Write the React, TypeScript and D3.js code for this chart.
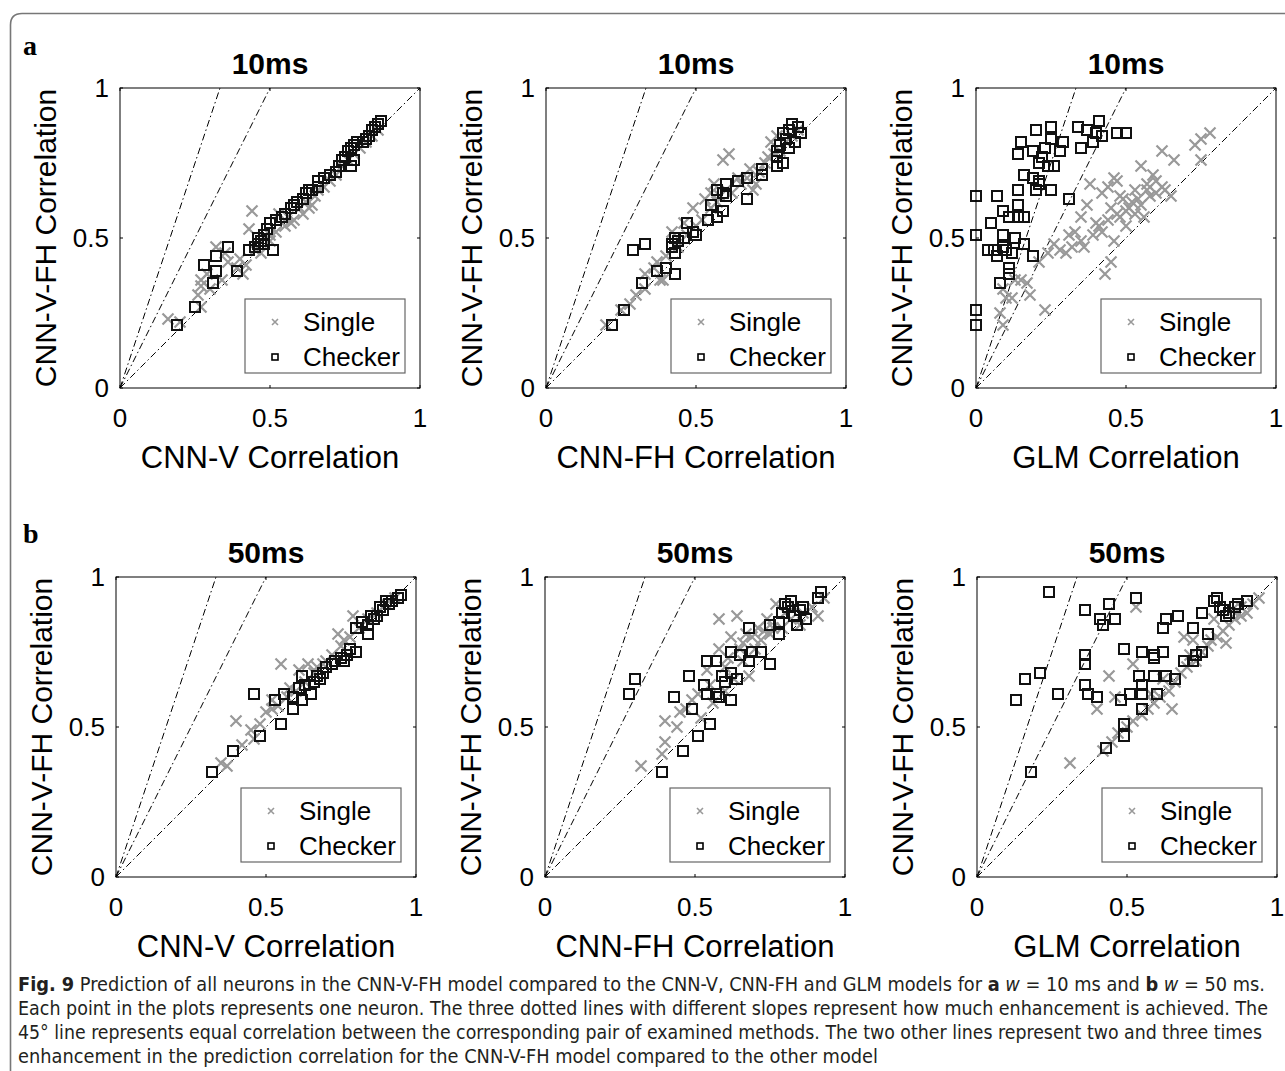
import React from 'react';
import * as d3 from 'd3';

// axis ticks shared by all six panels
const tickValues = [0, 0.5, 1];
const tickLabels = ['0', '0.5', '1'];
const refSlopes = [1, 2, 3];

// panel a: 10ms
const single10V: [number, number][] = [
  [0.16, 0.23], [0.2, 0.22], [0.27, 0.27], [0.26, 0.31], [0.27, 0.34], [0.27, 0.36], [0.29, 0.38], [0.3, 0.33],
  [0.32, 0.47], [0.35, 0.45], [0.36, 0.42], [0.4, 0.43], [0.41, 0.38], [0.42, 0.41], [0.43, 0.53], [0.44, 0.59],
  [0.45, 0.46], [0.47, 0.45], [0.5, 0.49], [0.52, 0.52], [0.55, 0.54], [0.57, 0.55], [0.58, 0.56], [0.6, 0.6],
  [0.61, 0.58], [0.62, 0.62], [0.63, 0.6], [0.64, 0.61], [0.65, 0.64], [0.66, 0.66], [0.68, 0.67], [0.7, 0.69],
  [0.72, 0.71], [0.74, 0.74], [0.76, 0.76], [0.78, 0.78], [0.8, 0.8], [0.82, 0.82], [0.84, 0.84], [0.86, 0.86],
  [0.53, 0.58], [0.56, 0.57], [0.5, 0.51], [0.48, 0.5], [0.39, 0.4], [0.34, 0.36],
];
const checker10V: [number, number][] = [
  [0.87, 0.89], [0.86, 0.88], [0.85, 0.87], [0.84, 0.86], [0.83, 0.84], [0.82, 0.83], [0.81, 0.82], [0.79, 0.82],
  [0.78, 0.81], [0.77, 0.8], [0.76, 0.79], [0.75, 0.77], [0.74, 0.76], [0.73, 0.74], [0.78, 0.76], [0.77, 0.74],
  [0.72, 0.72], [0.7, 0.71], [0.68, 0.7], [0.66, 0.69], [0.66, 0.67], [0.64, 0.66], [0.63, 0.66], [0.62, 0.65],
  [0.61, 0.63], [0.59, 0.62], [0.58, 0.61], [0.57, 0.6], [0.55, 0.58], [0.54, 0.57], [0.52, 0.56], [0.5, 0.55],
  [0.49, 0.53], [0.48, 0.51], [0.47, 0.49], [0.46, 0.48], [0.45, 0.47], [0.43, 0.46], [0.51, 0.46], [0.48, 0.48],
  [0.46, 0.5], [0.36, 0.47], [0.32, 0.44], [0.28, 0.41], [0.32, 0.39], [0.31, 0.35], [0.39, 0.39], [0.25, 0.27],
  [0.19, 0.21],
];
const single10FH: [number, number][] = [
  [0.2, 0.21], [0.25, 0.26], [0.28, 0.28], [0.3, 0.31], [0.33, 0.33], [0.33, 0.38], [0.37, 0.42], [0.38, 0.36],
  [0.39, 0.36], [0.42, 0.52], [0.44, 0.47], [0.46, 0.55], [0.47, 0.51], [0.49, 0.6], [0.5, 0.54], [0.52, 0.56],
  [0.53, 0.63], [0.55, 0.6], [0.56, 0.68], [0.57, 0.62], [0.59, 0.76], [0.61, 0.78], [0.6, 0.66], [0.62, 0.65],
  [0.64, 0.7], [0.65, 0.68], [0.67, 0.7], [0.68, 0.73], [0.69, 0.66], [0.7, 0.68], [0.71, 0.72], [0.73, 0.75],
  [0.75, 0.82], [0.77, 0.84], [0.78, 0.79], [0.8, 0.82], [0.82, 0.84], [0.84, 0.86], [0.76, 0.78], [0.74, 0.77],
  [0.58, 0.64], [0.55, 0.65], [0.4, 0.44], [0.36, 0.4],
];
const checker10FH: [number, number][] = [
  [0.82, 0.88], [0.84, 0.87], [0.85, 0.85], [0.81, 0.86], [0.79, 0.85], [0.83, 0.82], [0.78, 0.81], [0.77, 0.79],
  [0.77, 0.77], [0.79, 0.75], [0.77, 0.74], [0.72, 0.73], [0.72, 0.71], [0.67, 0.7], [0.64, 0.69], [0.6, 0.68],
  [0.57, 0.66], [0.59, 0.65], [0.6, 0.64], [0.67, 0.63], [0.55, 0.61], [0.59, 0.59], [0.57, 0.57], [0.54, 0.56],
  [0.5, 0.51], [0.47, 0.55], [0.44, 0.49], [0.42, 0.47], [0.43, 0.45], [0.29, 0.46], [0.33, 0.48], [0.37, 0.39],
  [0.4, 0.4], [0.43, 0.38], [0.32, 0.35], [0.26, 0.26], [0.22, 0.21], [0.42, 0.48], [0.43, 0.5], [0.46, 0.5],
  [0.49, 0.52], [0.81, 0.8], [0.8, 0.83],
];
const single10G: [number, number][] = [
  [0.78, 0.85], [0.75, 0.83], [0.73, 0.81], [0.75, 0.76], [0.62, 0.79], [0.66, 0.76], [0.55, 0.74], [0.59, 0.71],
  [0.46, 0.7], [0.49, 0.63], [0.44, 0.67], [0.38, 0.68], [0.47, 0.69], [0.57, 0.66], [0.62, 0.67], [0.63, 0.66],
  [0.65, 0.64], [0.37, 0.61], [0.31, 0.51], [0.33, 0.52], [0.28, 0.46], [0.3, 0.45], [0.36, 0.47], [0.4, 0.55],
  [0.42, 0.52], [0.45, 0.6], [0.5, 0.54], [0.48, 0.57], [0.46, 0.49], [0.45, 0.42], [0.43, 0.38], [0.23, 0.26],
  [0.18, 0.31], [0.15, 0.36], [0.13, 0.36], [0.09, 0.33], [0.08, 0.25], [0.09, 0.21], [0.21, 0.42], [0.56, 0.57],
  [0.53, 0.58], [0.51, 0.6], [0.52, 0.62], [0.54, 0.63], [0.58, 0.64], [0.6, 0.65], [0.55, 0.61], [0.5, 0.59],
  [0.47, 0.58], [0.44, 0.56], [0.41, 0.54], [0.39, 0.51], [0.35, 0.49], [0.32, 0.47], [0.26, 0.48], [0.24, 0.45],
  [0.17, 0.35], [0.12, 0.3], [0.1, 0.3], [0.6, 0.69], [0.57, 0.68], [0.48, 0.64], [0.53, 0.66], [0.42, 0.65],
  [0.35, 0.57],
];
const checker10G: [number, number][] = [
  [0.0, 0.64], [0.0, 0.51], [0.0, 0.26], [0.0, 0.21], [0.2, 0.86], [0.25, 0.87], [0.15, 0.82], [0.14, 0.78],
  [0.19, 0.79], [0.23, 0.8], [0.25, 0.83], [0.29, 0.82], [0.34, 0.87], [0.37, 0.86], [0.41, 0.89], [0.4, 0.85],
  [0.42, 0.84], [0.47, 0.85], [0.5, 0.85], [0.35, 0.8], [0.39, 0.82], [0.28, 0.79], [0.21, 0.75], [0.24, 0.74],
  [0.26, 0.74], [0.22, 0.77], [0.16, 0.71], [0.19, 0.7], [0.21, 0.69], [0.2, 0.66], [0.25, 0.66], [0.14, 0.66],
  [0.07, 0.64], [0.14, 0.61], [0.09, 0.59], [0.11, 0.57], [0.14, 0.57], [0.16, 0.57], [0.05, 0.55], [0.09, 0.51],
  [0.13, 0.5], [0.16, 0.48], [0.04, 0.46], [0.07, 0.44], [0.09, 0.47], [0.1, 0.46], [0.19, 0.44], [0.11, 0.4],
  [0.11, 0.38], [0.08, 0.35], [0.31, 0.63], [0.06, 0.46], [0.12, 0.45], [0.21, 0.68],
];

// panel b: 50ms
const single50V: [number, number][] = [
  [0.79, 0.87], [0.74, 0.81], [0.55, 0.71], [0.61, 0.69], [0.64, 0.71], [0.52, 0.59], [0.4, 0.52], [0.45, 0.49],
  [0.46, 0.46], [0.37, 0.37], [0.5, 0.55], [0.52, 0.56], [0.48, 0.51], [0.57, 0.6], [0.6, 0.62], [0.63, 0.65],
  [0.66, 0.68], [0.69, 0.71], [0.72, 0.74], [0.75, 0.77], [0.78, 0.8], [0.81, 0.83], [0.84, 0.86], [0.87, 0.88],
  [0.9, 0.91], [0.93, 0.93], [0.76, 0.79], [0.7, 0.72], [0.58, 0.63], [0.42, 0.44], [0.35, 0.38], [0.54, 0.57],
  [0.67, 0.7],
];
const checker50V: [number, number][] = [
  [0.95, 0.94], [0.94, 0.93], [0.92, 0.92], [0.91, 0.91], [0.89, 0.89], [0.87, 0.87], [0.86, 0.86], [0.84, 0.84],
  [0.84, 0.81], [0.8, 0.83], [0.8, 0.75], [0.77, 0.74], [0.75, 0.73], [0.73, 0.72], [0.76, 0.72], [0.72, 0.71],
  [0.69, 0.68], [0.67, 0.67], [0.66, 0.65], [0.62, 0.67], [0.61, 0.63], [0.65, 0.61], [0.59, 0.6], [0.56, 0.61],
  [0.53, 0.59], [0.62, 0.59], [0.59, 0.56], [0.46, 0.61], [0.55, 0.51], [0.48, 0.47], [0.39, 0.42], [0.32, 0.35],
  [0.88, 0.9], [0.9, 0.92], [0.85, 0.87], [0.82, 0.85], [0.78, 0.76], [0.7, 0.7], [0.68, 0.66], [0.63, 0.64],
];
const single50FH: [number, number][] = [
  [0.58, 0.86], [0.64, 0.87], [0.77, 0.91], [0.91, 0.87], [0.85, 0.84], [0.69, 0.8], [0.67, 0.81], [0.73, 0.82],
  [0.62, 0.8], [0.66, 0.78], [0.58, 0.76], [0.54, 0.69], [0.68, 0.67], [0.51, 0.61], [0.47, 0.56], [0.4, 0.52],
  [0.44, 0.5], [0.4, 0.45], [0.39, 0.41], [0.32, 0.37], [0.52, 0.53], [0.56, 0.58], [0.6, 0.62], [0.63, 0.66],
  [0.66, 0.72], [0.7, 0.76], [0.72, 0.79], [0.75, 0.81], [0.79, 0.83], [0.82, 0.86], [0.86, 0.88], [0.89, 0.9],
  [0.93, 0.93], [0.71, 0.83], [0.74, 0.86], [0.6, 0.7], [0.55, 0.64], [0.49, 0.59], [0.45, 0.55], [0.65, 0.76],
  [0.61, 0.73], [0.8, 0.88], [0.83, 0.9], [0.76, 0.83],
];
const checker50FH: [number, number][] = [
  [0.92, 0.95], [0.91, 0.93], [0.82, 0.92], [0.81, 0.9], [0.85, 0.89], [0.87, 0.86], [0.84, 0.84], [0.79, 0.88],
  [0.78, 0.85], [0.78, 0.81], [0.75, 0.84], [0.68, 0.83], [0.72, 0.75], [0.75, 0.71], [0.62, 0.75], [0.65, 0.74],
  [0.69, 0.75], [0.68, 0.72], [0.54, 0.72], [0.57, 0.72], [0.62, 0.68], [0.59, 0.67], [0.64, 0.66], [0.48, 0.67],
  [0.53, 0.64], [0.54, 0.61], [0.58, 0.6], [0.62, 0.59], [0.43, 0.6], [0.49, 0.56], [0.55, 0.51], [0.51, 0.47],
  [0.46, 0.42], [0.39, 0.35], [0.3, 0.66], [0.28, 0.61], [0.83, 0.87], [0.86, 0.9], [0.8, 0.91], [0.57, 0.61],
  [0.6, 0.65],
];
const single50G: [number, number][] = [
  [0.53, 0.9], [0.52, 0.71], [0.44, 0.67], [0.46, 0.6], [0.4, 0.56], [0.31, 0.38], [0.65, 0.56], [0.83, 0.78],
  [0.69, 0.8], [0.72, 0.79], [0.78, 0.79], [0.5, 0.5], [0.55, 0.54], [0.59, 0.58], [0.64, 0.62], [0.68, 0.68],
  [0.73, 0.72], [0.77, 0.77], [0.82, 0.82], [0.86, 0.86], [0.9, 0.88], [0.94, 0.93], [0.45, 0.45], [0.42, 0.42],
  [0.47, 0.48], [0.52, 0.52], [0.57, 0.56], [0.61, 0.6], [0.66, 0.65], [0.7, 0.7], [0.75, 0.75], [0.8, 0.8],
  [0.84, 0.84], [0.88, 0.87], [0.92, 0.91], [0.85, 0.89], [0.88, 0.9], [0.79, 0.86], [0.62, 0.66], [0.58, 0.61],
  [0.71, 0.74],
];
const checker50G: [number, number][] = [
  [0.24, 0.95], [0.53, 0.93], [0.44, 0.91], [0.36, 0.89], [0.41, 0.86], [0.46, 0.86], [0.42, 0.84], [0.63, 0.86],
  [0.67, 0.87], [0.62, 0.83], [0.72, 0.83], [0.75, 0.88], [0.77, 0.81], [0.79, 0.92], [0.8, 0.93], [0.81, 0.9],
  [0.82, 0.89], [0.83, 0.87], [0.86, 0.9], [0.87, 0.91], [0.9, 0.92], [0.84, 0.88], [0.49, 0.76], [0.55, 0.75],
  [0.59, 0.74], [0.62, 0.75], [0.59, 0.73], [0.69, 0.72], [0.72, 0.72], [0.75, 0.75], [0.73, 0.74], [0.36, 0.74],
  [0.36, 0.71], [0.16, 0.66], [0.21, 0.68], [0.13, 0.59], [0.27, 0.61], [0.36, 0.64], [0.37, 0.61], [0.4, 0.6],
  [0.48, 0.59], [0.51, 0.61], [0.54, 0.67], [0.55, 0.64], [0.59, 0.67], [0.63, 0.67], [0.66, 0.66], [0.55, 0.61],
  [0.6, 0.61], [0.55, 0.56], [0.49, 0.51], [0.49, 0.47], [0.43, 0.43], [0.18, 0.35],
];

const FONT = "'Liberation Sans', Arial, Helvetica, sans-serif";
const SIZE = 300;

interface PanelProps {
  x0: number;
  y0: number;
  title: string;
  xLabel: string;
  singles: [number, number][];
  checkers: [number, number][];
}

function Panel({ x0, y0, title, xLabel, singles, checkers }: PanelProps) {
  const x = d3.scaleLinear().domain([0, 1]).range([0, SIZE]);
  const y = d3.scaleLinear().domain([0, 1]).range([SIZE, 0]);
  const line = d3.line<[number, number]>().x(d => x(d[0])).y(d => y(d[1]));
  const tk = 3;
  const cs = 5.5; // half size of cross
  const sq = 10; // square side

  return (
    <g transform={`translate(${x0},${y0})`}>
      <text x={SIZE / 2} y={-14} textAnchor="middle" fontFamily={FONT} fontWeight="bold" fontSize={30}>{title}</text>

      {/* reference lines 1x, 2x, 3x */}
      {refSlopes.map(s => (
        <path key={s} d={line([[0, 0], [1 / s, 1]]) || ''} fill="none" stroke="#000" strokeWidth={1}
          strokeDasharray="7,3,1.5,3" />
      ))}

      {singles.map((d, i) => (
        <path key={'s' + i}
          d={`M${x(d[0]) - cs},${y(d[1]) - cs}L${x(d[0]) + cs},${y(d[1]) + cs}M${x(d[0]) - cs},${y(d[1]) + cs}L${x(d[0]) + cs},${y(d[1]) - cs}`}
          stroke="#999" strokeWidth={2.2} fill="none" />
      ))}
      {checkers.map((d, i) => (
        <rect key={'c' + i} x={x(d[0]) - sq / 2} y={y(d[1]) - sq / 2} width={sq} height={sq}
          fill="none" stroke="#111" strokeWidth={2} />
      ))}

      {/* box */}
      <rect x={0} y={0} width={SIZE} height={SIZE} fill="none" stroke="#000" strokeWidth={1} />
      {tickValues.map(t => (
        <g key={t}>
          <line x1={x(t)} x2={x(t)} y1={SIZE} y2={SIZE - tk} stroke="#000" />
          <line x1={x(t)} x2={x(t)} y1={0} y2={tk} stroke="#000" />
          <line x1={0} x2={tk} y1={y(t)} y2={y(t)} stroke="#000" />
          <line x1={SIZE} x2={SIZE - tk} y1={y(t)} y2={y(t)} stroke="#000" />
        </g>
      ))}
      {tickValues.map((t, i) => (
        <text key={'xl' + t} x={x(t)} y={SIZE + 39} textAnchor="middle" fontFamily={FONT} fontSize={26}>{tickLabels[i]}</text>
      ))}
      {tickValues.map((t, i) => (
        <text key={'yl' + t} x={-11} y={y(t) + 9} textAnchor="end" fontFamily={FONT} fontSize={26}>{tickLabels[i]}</text>
      ))}
      <text x={SIZE / 2} y={SIZE + 80} textAnchor="middle" fontFamily={FONT} fontSize={31}>{xLabel}</text>
      <text transform={`translate(-64,${SIZE / 2}) rotate(-90)`} textAnchor="middle" fontFamily={FONT} fontSize={30}>CNN-V-FH Correlation</text>

      {/* legend */}
      <g transform={`translate(${SIZE - 175},${SIZE - 89})`}>
        <rect x={0} y={0} width={160} height={74} fill="#fff" stroke="#666" strokeWidth={1.2} />
        <path d="M27,20L33,26M27,26L33,20" stroke="#999" strokeWidth={1.6} />
        <rect x={27} y={55} width={6} height={6} fill="none" stroke="#000" strokeWidth={1.6} />
        <text x={58} y={32} fontFamily={FONT} fontSize={26}>Single</text>
        <text x={58} y={67} fontFamily={FONT} fontSize={26}>Checker</text>
      </g>
    </g>
  );
}

const CAP_FONT = "'Liberation Sans Narrow', 'DejaVu Sans Condensed', 'Roboto Condensed', 'Liberation Sans', sans-serif";

export default function App() {
  const panels = [
    { x0: 120, y0: 88, title: '10ms', xLabel: 'CNN-V Correlation', singles: single10V, checkers: checker10V },
    { x0: 546, y0: 88, title: '10ms', xLabel: 'CNN-FH Correlation', singles: single10FH, checkers: checker10FH },
    { x0: 976, y0: 88, title: '10ms', xLabel: 'GLM Correlation', singles: single10G, checkers: checker10G },
    { x0: 116, y0: 577, title: '50ms', xLabel: 'CNN-V Correlation', singles: single50V, checkers: checker50V },
    { x0: 545, y0: 577, title: '50ms', xLabel: 'CNN-FH Correlation', singles: single50FH, checkers: checker50FH },
    { x0: 977, y0: 577, title: '50ms', xLabel: 'GLM Correlation', singles: single50G, checkers: checker50G },
  ];

  return (
    <svg width={1285} height={1071} style={{ position: 'absolute', left: 0, top: 0, background: '#fff' }}>
      <rect width={1285} height={1071} fill="#fff" />
      {/* outer frame */}
      <path d="M10.5,1080 L10.5,25 Q10.5,13.5 22,13.5 L1300,13.5" fill="none" stroke="#777" strokeWidth={1.6} />

      <text x={23} y={55} fontFamily="'Liberation Serif', 'Times New Roman', serif" fontWeight="bold" fontSize={28}>a</text>
      <text x={23} y={543} fontFamily="'Liberation Serif', 'Times New Roman', serif" fontWeight="bold" fontSize={28}>b</text>

      {panels.map((p, i) => <Panel key={i} {...p} />)}

      <g fontFamily={CAP_FONT} fontSize={19} fill="#231f20">
        <text x={18} y={991} textLength={1247} lengthAdjust="spacingAndGlyphs">
          <tspan fontWeight="bold">Fig. 9</tspan>
          <tspan>{'  Prediction of all neurons in the CNN-V-FH model compared to the CNN-V, CNN-FH and GLM models for '}</tspan>
          <tspan fontWeight="bold">a</tspan>
          <tspan> </tspan>
          <tspan fontStyle="italic">w</tspan>
          <tspan>{' = 10 ms and '}</tspan>
          <tspan fontWeight="bold">b</tspan>
          <tspan> </tspan>
          <tspan fontStyle="italic">w</tspan>
          <tspan>{' = 50 ms.'}</tspan>
        </text>
        <text x={18} y={1015} textLength={1250} lengthAdjust="spacingAndGlyphs">
          Each point in the plots represents one neuron. The three dotted lines with different slopes represent how much enhancement is achieved. The
        </text>
        <text x={18} y={1039} textLength={1244} lengthAdjust="spacingAndGlyphs">
          45° line represents equal correlation between the corresponding pair of examined methods. The two other lines represent two and three times
        </text>
        <text x={18} y={1063} textLength={860} lengthAdjust="spacingAndGlyphs">
          enhancement in the prediction correlation for the CNN-V-FH model compared to the other model
        </text>
      </g>
    </svg>
  );
}
